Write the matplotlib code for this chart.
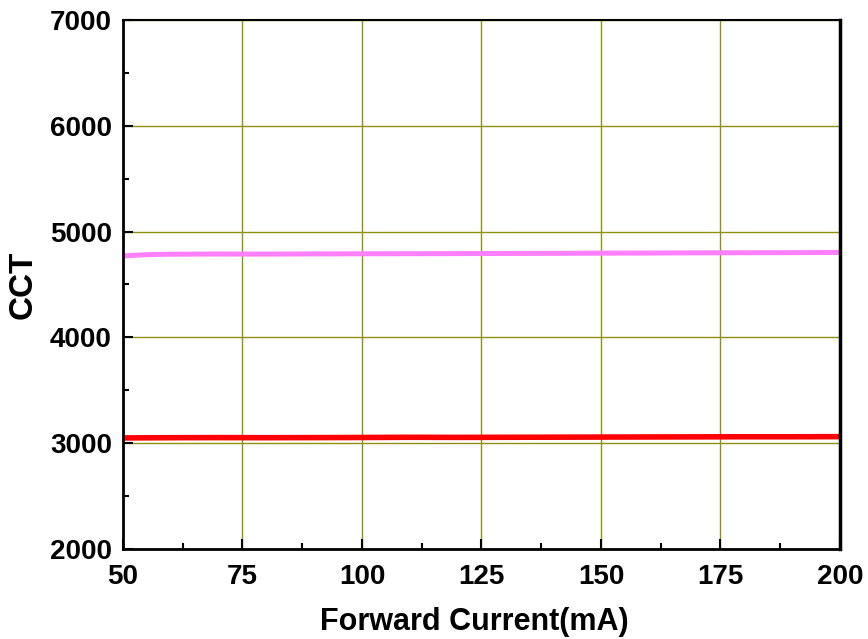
import matplotlib.pyplot as plt
from matplotlib.ticker import MultipleLocator

plt.rcParams['font.family'] = ['Liberation Sans', 'DejaVu Sans']
plt.rcParams['font.weight'] = 'bold'

# data
current = [50, 55, 60, 70, 80, 90, 100, 110, 120, 130, 140, 150, 160, 170, 180, 190, 200]
cct_cool = [4770, 4782, 4786, 4788, 4787, 4789, 4790, 4791, 4792, 4793, 4794, 4796, 4797, 4799, 4800, 4801, 4803]
cct_warm = [3050, 3051, 3052, 3053, 3052, 3053, 3054, 3056, 3055, 3056, 3057, 3058, 3059, 3060, 3061, 3061, 3062]

fig = plt.figure(figsize=(8.68, 6.39), dpi=100)
ax = fig.add_axes([0.1417, 0.1408, 0.826, 0.828])

ax.plot(current, cct_cool, color='#ff80ff', linewidth=3.6, solid_capstyle='butt')
ax.plot(current, cct_warm, color='#ff0000', linewidth=4.0, solid_capstyle='butt')

ax.set_xlim(50, 200)
ax.set_ylim(2000, 7000)
ax.xaxis.set_major_locator(MultipleLocator(25))
ax.xaxis.set_minor_locator(MultipleLocator(12.5))
ax.yaxis.set_major_locator(MultipleLocator(1000))
ax.yaxis.set_minor_locator(MultipleLocator(500))

ax.grid(which='major', color='#8f8f10', linewidth=1.0)
ax.set_axisbelow(True)

ax.tick_params(which='major', direction='in', length=7, width=1.5, labelsize=20)
ax.tick_params(axis='x', which='major', pad=11)
ax.tick_params(axis='y', which='major', pad=8)
ax.tick_params(which='minor', direction='in', length=4, width=1.5)
for lab in ax.get_xticklabels() + ax.get_yticklabels():
    lab.set_fontweight('bold')

ax.spines['left'].set_linewidth(2)
ax.spines['bottom'].set_linewidth(2)
ax.spines['right'].set_linewidth(2.5)
ax.spines['top'].set_linewidth(1.5)

ax.set_xlabel('Forward Current(mA)', fontsize=22, fontweight='bold')
ax.xaxis.set_label_coords(0.49, -0.110)
ax.set_ylabel('CCT', fontsize=24, fontweight='bold')
ax.yaxis.set_label_coords(-0.118, 0.5)

fig.savefig('out.png', dpi=100)
